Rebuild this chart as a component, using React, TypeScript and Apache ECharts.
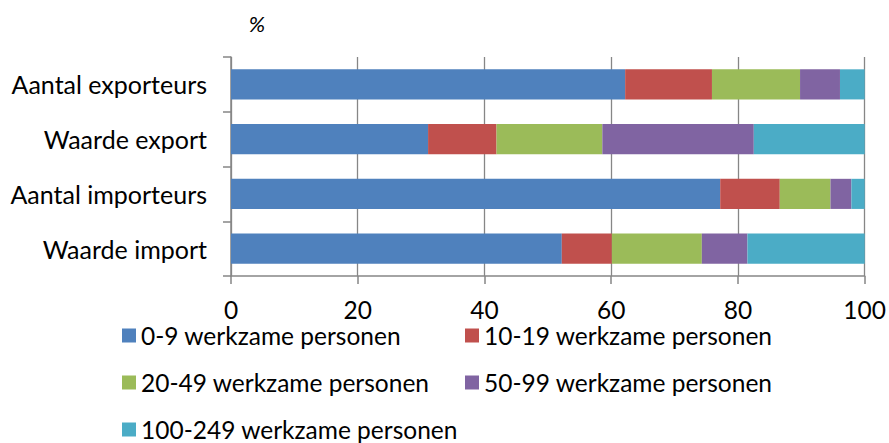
import React, { useEffect, useRef } from "react";
import * as echarts from "echarts";

const categories = ["Aantal exporteurs", "Waarde export", "Aantal importeurs", "Waarde import"];
const seriesNames = [
  "0-9 werkzame personen",
  "10-19 werkzame personen",
  "20-49 werkzame personen",
  "50-99 werkzame personen",
  "100-249 werkzame personen",
];
const s0to9 = [62.2, 31.1, 77.2, 52.2];
const s10to19 = [13.7, 10.8, 9.4, 7.9];
const s20to49 = [13.9, 16.7, 8.0, 14.2];
const s50to99 = [6.3, 23.9, 3.3, 7.2];
const s100to249 = [3.9, 17.5, 2.1, 18.5];
const seriesValues = [s0to9, s10to19, s20to49, s50to99, s100to249];
const colors = ["#4F81BD", "#C0504D", "#9BBB59", "#8064A2", "#4BACC6"];
const unitLabel = "%";

const FONT = "Lato";

export default function App() {
  const ref = useRef<HTMLDivElement>(null);
  useEffect(() => {
    if (!ref.current) return;
    const chart = echarts.init(ref.current, undefined, { renderer: "svg" });
    chart.setOption({
      animation: false,
      color: colors,
      textStyle: { fontFamily: FONT, color: "#000" },
      grid: { left: 231, right: 23, top: 57, bottom: 167, containLabel: false },
      graphic: [
        {
          type: "text",
          x: 257,
          y: 23,
          style: {
            text: unitLabel,
            fontFamily: FONT,
            fontStyle: "italic",
            fontSize: 22,
            fill: "#000",
            textAlign: "center",
            textVerticalAlign: "middle",
          },
        },
      ],
      legend: {
        left: 117,
        top: 318,
        width: 720,
        orient: "horizontal",
        itemWidth: 14,
        itemHeight: 14,
        itemGap: 22,
        icon: "rect",
        textStyle: { fontFamily: FONT, fontSize: 24.5, color: "#000", width: 302, lineHeight: 21.5 },
        data: seriesNames,
      },
      xAxis: {
        type: "value",
        min: 0,
        max: 100,
        interval: 20,
        axisLine: { show: true, lineStyle: { color: "#868686", width: 1.5 } },
        axisTick: { show: true, length: 8, lineStyle: { color: "#868686", width: 1.5 } },
        splitLine: { show: true, lineStyle: { color: "#868686", width: 1.3 } },
        axisLabel: { fontFamily: FONT, fontSize: 24.5, color: "#000", margin: 24, lineHeight: 18 },
      },
      yAxis: {
        type: "category",
        inverse: true,
        data: categories,
        axisLine: { show: true, lineStyle: { color: "#868686", width: 1.5 } },
        axisTick: { show: true, length: 8, lineStyle: { color: "#868686", width: 1.5 } },
        axisLabel: { fontFamily: FONT, fontSize: 25, color: "#000", margin: 24 },
      },
      series: seriesNames.map((name, i) => ({
        name,
        type: "bar",
        stack: "total",
        barCategoryGap: "45%",
        data: seriesValues[i],
        itemStyle: { color: colors[i] },
      })),
    });
    return () => chart.dispose();
  }, []);
  return (
    <div
      ref={ref}
      style={{ position: "fixed", left: 0, top: 0, width: 889, height: 443, background: "#fff" }}
    />
  );
}
